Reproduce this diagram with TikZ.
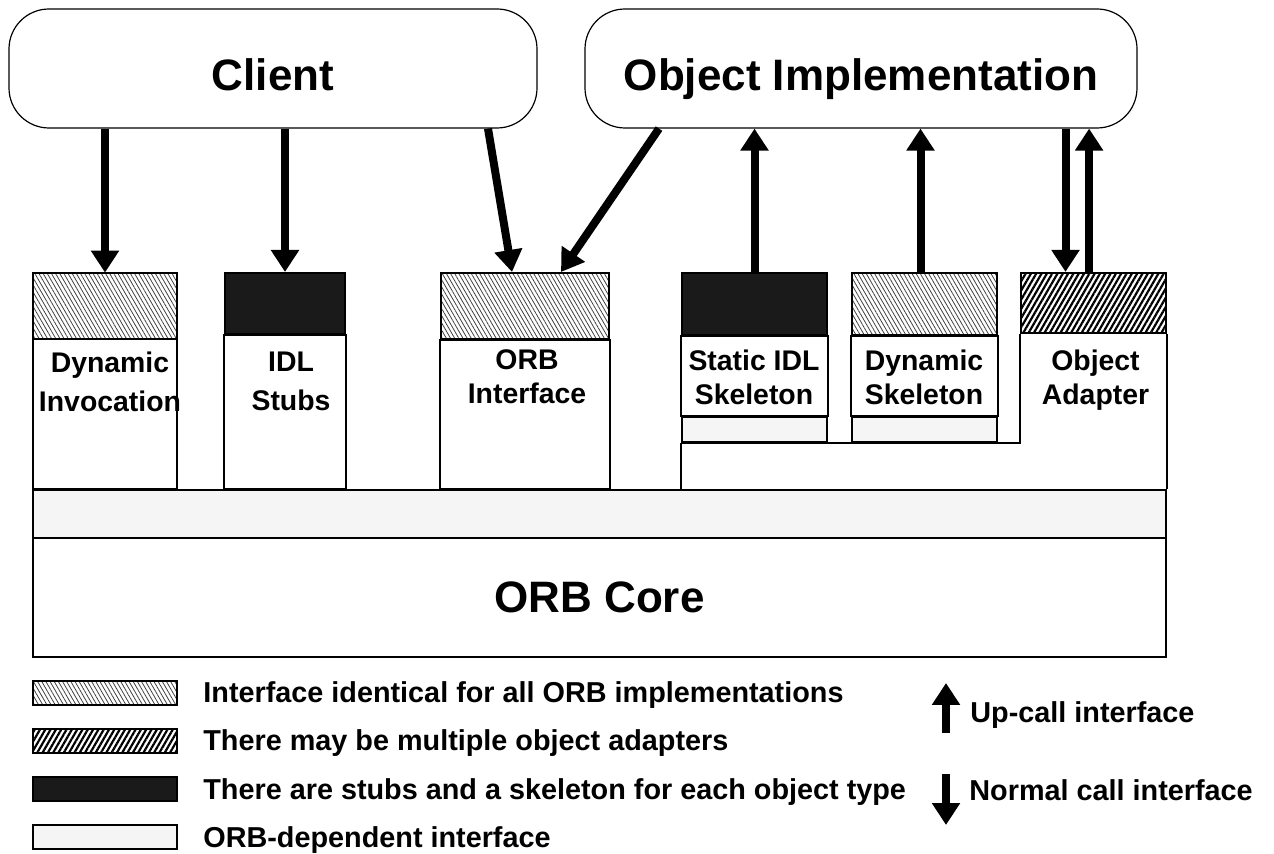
\documentclass[tikz,border=0pt]{standalone}
\usepackage{fontspec}
\setmainfont{Liberation Sans}
\usetikzlibrary{positioning,arrows.meta,patterns.meta}
\definecolor{stubfill}{HTML}{1A1A1A}
\definecolor{depfill}{HTML}{F5F5F5}
\begin{document}
\begin{tikzpicture}[
    x=0.5pt, y=-0.5pt,
    title/.style={rectangle, draw, line width=0.6pt, rounded corners=20pt, font=\bfseries\fontsize{22}{26}\selectfont, text height=22pt, text depth=0pt},
    capbox/.style={rectangle, draw, line width=1pt, inner sep=0pt},
    ident/.style={capbox, pattern={Lines[angle=-60,distance=1.8pt,line width=0.4pt]}, pattern color=black!75},
    multi/.style={capbox, pattern={Lines[angle=60,distance=2.3pt,line width=1.1pt]}, pattern color=black},
    stub/.style={capbox, fill=stubfill},
    dep/.style={capbox, fill=depfill},
    lbl/.style={font=\bfseries\fontsize{14.2}{17}\selectfont, align=center, text depth=0pt},
    legtext/.style={font=\bfseries\fontsize{14.4}{17}\selectfont, anchor=west, inner sep=0pt, text height=10pt, text depth=0pt},
    call/.style={-{Triangle[width=13.5pt,length=11pt]}, line width=4pt},
    body/.style={line width=1pt}
]
\useasboundingbox (0,0) rectangle (1274,854);

% Client and object implementation
\node[title, minimum width=264pt, minimum height=59.5pt] (client) at (273,68.5) {Client};
\node[title, minimum width=276pt, minimum height=59.5pt] (objimpl) at (861,68.5) {Object Implementation};

% ORB core and ORB-dependent layer
\node[dep, minimum width=566.5pt, minimum height=24pt] (band) at (599.5,514) {};
\node[capbox, minimum width=566.5pt, minimum height=59.5pt, font=\bfseries\fontsize{22}{26}\selectfont] (core) at (599.5,597.5) {ORB Core};

% Interface tops
\node[ident, minimum width=72pt, minimum height=33pt] (dyncap) at (105,306) {};
\node[stub, minimum width=60pt, minimum height=30.5pt] (idlcap) at (285,303.5) {};
\node[ident, minimum width=84pt, minimum height=33pt] (orbcap) at (525,306) {};
\node[stub, minimum width=72.5pt, minimum height=31pt] (statcap) at (754.5,304) {};
\node[ident, minimum width=72.5pt, minimum height=31pt] (dskelcap) at (924.5,304) {};
\node[multi, minimum width=72.5pt, minimum height=30pt] (adaptcap) at (1093.5,303) {};
\node[dep, minimum width=72.5pt, minimum height=12.5pt] (statband) at (754.5,429.5) {};
\node[dep, minimum width=72.5pt, minimum height=12.5pt] (dskelband) at (924.5,429.5) {};

% Bodies
\draw[body] (dyncap.south west) rectangle (dyncap.south east |- band.north);
\draw[body] (idlcap.south west) rectangle (idlcap.south east |- band.north);
\draw[body] (orbcap.south west) rectangle (orbcap.south east |- band.north);
\draw[body] (statcap.south west) rectangle (statband.north east);
\draw[body] (dskelcap.south west) rectangle (dskelband.north east);
\draw[body] (statband.south west) -- (statband.south west |- band.north);
\draw[body] (statband.south west) -- (adaptcap.south west |- statband.south) -- (adaptcap.south west);
\draw[body] (adaptcap.south east) -- (adaptcap.south east |- band.north);

% Labels
\node[lbl, font=\bfseries\fontsize{14.2}{19.5}\selectfont] (dynlbl) at (110,381.5) {Dynamic\\Invocation};
\node[lbl, font=\bfseries\fontsize{14.2}{19.5}\selectfont] (idllbl) at (291,381.5) {IDL\\Stubs};
\node[lbl] (orblbl) at (527,377) {ORB\\Interface};
\node[lbl] (statlbl) at (754,377) {Static IDL\\Skeleton};
\node[lbl] (dsklbl) at (924,377) {Dynamic\\Skeleton};
\node[lbl] (adlbl) at (1095.5,377) {Object\\Adapter};

% Normal calls
\draw[call] (client.south -| dyncap.north) -- (dyncap.north);
\draw[call] (client.south -| idlcap.north) -- (idlcap.north);
\draw[call] ([xshift=107.5pt]client.south) -- ([xshift=-6.5pt]orbcap.north);
\draw[call] ([xshift=-101pt]objimpl.south) -- ([xshift=18pt]orbcap.north);
\coordinate (adin) at ([xshift=-14pt]adaptcap.north);
\draw[call] (adin |- objimpl.south) -- (adin);

% Up-calls
\coordinate (dskout) at ([xshift=-2pt]dskelcap.north);
\coordinate (adout) at ([xshift=-2.2pt]adaptcap.north);
\draw[call] (statcap.north) -- (statcap.north |- objimpl.south);
\draw[call] (dskout) -- (dskout |- objimpl.south);
\draw[call] (adout) -- (adout |- objimpl.south);

% Legend
\node[ident, minimum width=72pt, minimum height=12pt] (leg1) at (105,693) {};
\node[multi, minimum width=72pt, minimum height=12pt] (leg2) at (105,741) {};
\node[stub, minimum width=72pt, minimum height=12pt] (leg3) at (105,789) {};
\node[dep, minimum width=72pt, minimum height=12pt] (leg4) at (105,837) {};
\node[legtext, right=12.5pt of leg1] (legtxt1) {Interface identical for all ORB implementations};
\node[legtext, right=12.5pt of leg2] (legtxt2) {There may be multiple object adapters};
\node[legtext, right=12.5pt of leg3] (legtxt3) {There are stubs and a skeleton for each object type};
\node[legtext, right=12.5pt of leg4] (legtxt4) {ORB-dependent interface};

\coordinate (upfrom) at (946,733);
\coordinate (upto) at (946,683);
\draw[call] (upfrom) -- (upto);
\node[legtext] (uptxt) at (970,713) {Up-call interface};
\coordinate (dnfrom) at (946,774);
\coordinate (dnto) at (946,825);
\draw[call] (dnfrom) -- (dnto);
\node[legtext] (dntxt) at (969,790) {Normal call interface};
\end{tikzpicture}
\end{document}
